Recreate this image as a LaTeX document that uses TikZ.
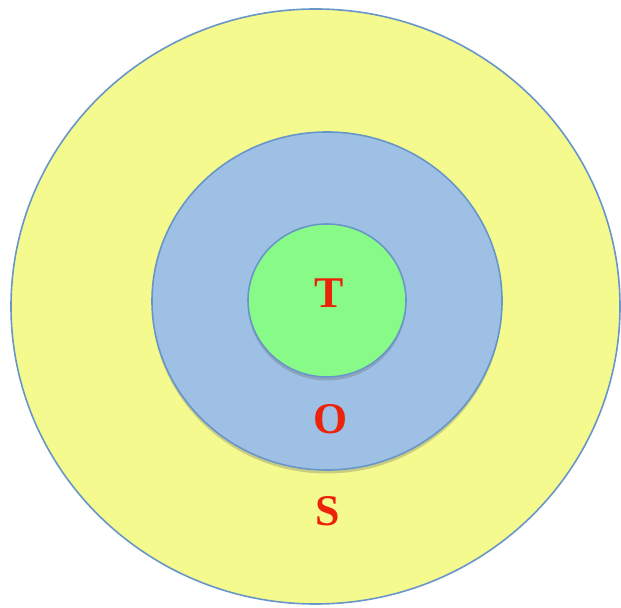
\documentclass[tikz,border=0pt]{standalone}
\usepackage{fontspec}
\setmainfont{Liberation Serif}
\usetikzlibrary{shapes.geometric,shadows}
\definecolor{ringyellow}{RGB}{245,250,142}
\definecolor{ringblue}{RGB}{158,192,228}
\definecolor{ringgreen}{RGB}{136,250,136}
\definecolor{ringedge}{RGB}{105,150,200}
\definecolor{lettered}{RGB}{235,35,10}
\tikzset{
  ring/.style={ellipse, draw=ringedge, line width=1.6bp, inner sep=0pt},
  shadowed/.style={drop shadow={shadow xshift=0bp, shadow yshift=-3.5bp, opacity=0.3, fill=black!60}},
  letter/.style={text=lettered, font=\bfseries\fontsize{44}{46}\selectfont, inner sep=0pt}
}
\begin{document}
\begin{tikzpicture}[x=1bp,y=1bp]
\useasboundingbox (0,0) rectangle (621,608);
\node[ring, fill=ringyellow, minimum width=609bp, minimum height=595bp] (outer) at (315.5,301.5) {};
\node[ring, fill=ringblue, shadowed, minimum width=350bp, minimum height=338bp] (middle) at (327,307) {};
\node[ring, fill=ringgreen, shadowed, minimum width=158bp, minimum height=153bp] (inner) at (327,307.5) {};
\node[letter] (t) at (329,315) {T};
\node[letter] (o) at (331,189) {O};
\node[letter] (s) at (328,97) {S};
\end{tikzpicture}
\end{document}
